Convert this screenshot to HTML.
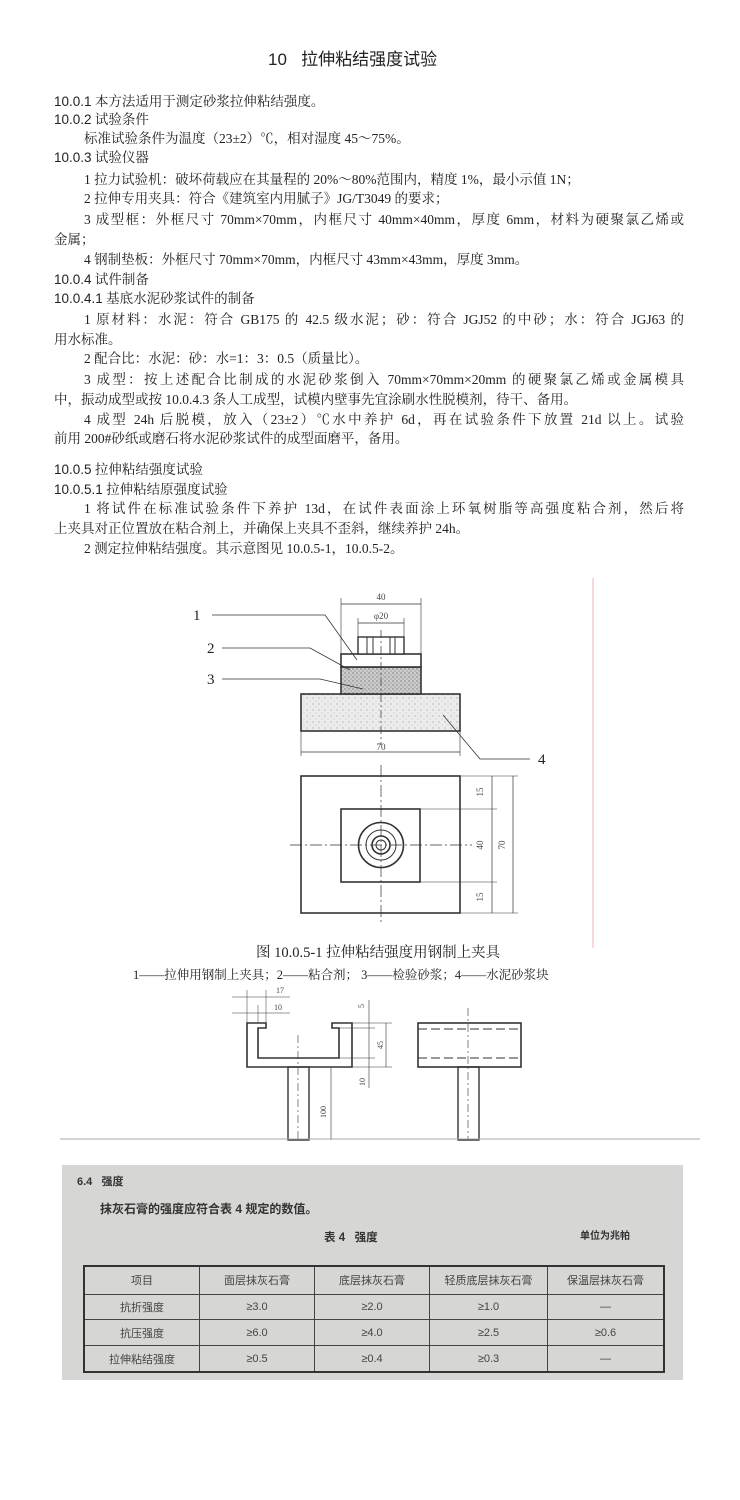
<!DOCTYPE html>
<html><head><meta charset="utf-8"><style>
body{margin:0;background:#fff;}
#p{position:relative;width:740px;height:1500px;overflow:hidden;font-family:"Liberation Serif","Noto Serif CJK SC",serif;color:#222;}
.l{position:absolute;font-size:13.5px;line-height:18px;white-space:nowrap;}
.f{left:54px;width:630px;text-align:justify;text-align-last:justify;white-space:normal;}
.h{font-family:"Liberation Sans","Noto Sans CJK SC",sans-serif;}
.n{font-family:"Liberation Sans",sans-serif;}
</style></head><body><div id="p">
<div class="l h" style="left:268px;top:48px;font-size:17px;line-height:24px;color:#222">10&nbsp;&nbsp;&nbsp;拉伸粘结强度试验</div>
<div class="l" style="left:54px;top:93px"><span class="n">10.0.1</span> 本方法适用于测定砂浆拉伸粘结强度。</div>
<div class="l" style="left:54px;top:111px"><span class="n">10.0.2</span> 试验条件</div>
<div class="l" style="left:84px;top:130px">标准试验条件为温度（23±2）℃，相对湿度 45～75%。</div>
<div class="l" style="left:54px;top:149px"><span class="n">10.0.3</span> 试验仪器</div>
<div class="l" style="left:84px;top:171px">1 拉力试验机：破坏荷载应在其量程的 20%～80%范围内，精度 1%，最小示值 1N；</div>
<div class="l" style="left:84px;top:190px">2 拉伸专用夹具：符合《建筑室内用腻子》JG/T3049 的要求；</div>
<div class="l f" style="top:211px;padding-left:30px;width:600px">3 成型框：外框尺寸 70mm×70mm，内框尺寸 40mm×40mm，厚度 6mm，材料为硬聚氯乙烯或</div>
<div class="l" style="left:54px;top:231px">金属；</div>
<div class="l" style="left:84px;top:251px">4 钢制垫板：外框尺寸 70mm×70mm，内框尺寸 43mm×43mm，厚度 3mm。</div>
<div class="l" style="left:54px;top:271px"><span class="n">10.0.4</span> 试件制备</div>
<div class="l" style="left:54px;top:290px"><span class="n">10.0.4.1</span> 基底水泥砂浆试件的制备</div>
<div class="l f" style="top:311px;padding-left:30px;width:600px">1 原材料：水泥：符合 GB175 的 42.5 级水泥；砂：符合 JGJ52 的中砂；水：符合 JGJ63 的</div>
<div class="l" style="left:54px;top:331px">用水标准。</div>
<div class="l" style="left:84px;top:350px">2 配合比：水泥：砂：水=1：3：0.5（质量比）。</div>
<div class="l f" style="top:371px;padding-left:30px;width:600px">3 成型：按上述配合比制成的水泥砂浆倒入 70mm×70mm×20mm 的硬聚氯乙烯或金属模具</div>
<div class="l" style="left:54px;top:391px">中，振动成型或按 10.0.4.3 条人工成型，试模内壁事先宜涂刷水性脱模剂，待干、备用。</div>
<div class="l f" style="top:411px;padding-left:30px;width:600px">4 成型 24h 后脱模，放入（23±2）℃水中养护 6d，再在试验条件下放置 21d 以上。试验</div>
<div class="l" style="left:54px;top:430px">前用 200#砂纸或磨石将水泥砂浆试件的成型面磨平，备用。</div>
<div class="l" style="left:54px;top:461px"><span class="n">10.0.5</span> 拉伸粘结强度试验</div>
<div class="l" style="left:54px;top:481px"><span class="n">10.0.5.1</span> 拉伸粘结原强度试验</div>
<div class="l f" style="top:500px;padding-left:30px;width:600px">1 将试件在标准试验条件下养护 13d，在试件表面涂上环氧树脂等高强度粘合剂，然后将</div>
<div class="l" style="left:54px;top:520px">上夹具对正位置放在粘合剂上，并确保上夹具不歪斜，继续养护 24h。</div>
<div class="l" style="left:84px;top:540px">2 测定拉伸粘结强度。其示意图见 10.0.5-1，10.0.5-2。</div>

<svg style="position:absolute;left:0;top:0" width="740" height="1500" font-family="Liberation Serif, serif">
<defs>
<pattern id="sp" width="6" height="6" patternUnits="userSpaceOnUse"><rect width="6" height="6" fill="#ececec"/><circle cx="1" cy="2" r="0.6" fill="#999"/><circle cx="4" cy="5" r="0.5" fill="#aaa"/></pattern>
<pattern id="sp2" width="4" height="4" patternUnits="userSpaceOnUse"><rect width="4" height="4" fill="#ccc"/><circle cx="1" cy="1" r="0.7" fill="#777"/><circle cx="3" cy="3" r="0.6" fill="#888"/></pattern>
</defs>
<line x1="593" y1="578" x2="593" y2="948" stroke="#f2b0b0" stroke-width="1"/>
<g stroke="#333" fill="none" stroke-width="1">
<rect x="301" y="694" width="159" height="37" fill="url(#sp)" stroke-width="1.6"/>
<rect x="341" y="667" width="80" height="27" fill="url(#sp2)" stroke-width="1.6"/>
<rect x="341" y="654" width="80" height="13" fill="#fff" stroke-width="1.6"/>
<rect x="358" y="637" width="46" height="17" fill="#fff" stroke-width="1.4"/>
<line x1="367" y1="637" x2="367" y2="654"/><line x1="373" y1="637" x2="373" y2="654"/><line x1="390" y1="637" x2="390" y2="654"/><line x1="395" y1="637" x2="395" y2="654"/>
<line x1="381" y1="630" x2="381" y2="745" stroke-dasharray="8,3,2,3" stroke-width="0.7"/>
<line x1="341" y1="598" x2="341" y2="654" stroke-width="0.6"/><line x1="421" y1="598" x2="421" y2="654" stroke-width="0.6"/>
<line x1="341" y1="604" x2="421" y2="604" stroke-width="0.7"/>
<line x1="358" y1="618" x2="358" y2="637" stroke-width="0.6"/><line x1="404" y1="618" x2="404" y2="637" stroke-width="0.6"/>
<line x1="358" y1="623" x2="404" y2="623" stroke-width="0.7"/>
<line x1="301" y1="731" x2="301" y2="756" stroke-width="0.6"/><line x1="460" y1="731" x2="460" y2="756" stroke-width="0.6"/>
<line x1="301" y1="752" x2="460" y2="752" stroke-width="0.7"/>
<polyline points="212,615 325,615 357,660" stroke-width="0.8"/>
<polyline points="222,648 310,648 350,670" stroke-width="0.8"/>
<polyline points="222,679 320,679 363,689" stroke-width="0.8"/>
<polyline points="530,759 480,759 443,715" stroke-width="0.8"/>
<rect x="301" y="776" width="159" height="137" stroke-width="1.6"/>
<rect x="341" y="809" width="79" height="73" stroke-width="1.6"/>
<circle cx="381" cy="845" r="22.5" stroke-width="1.6"/>
<circle cx="381" cy="845" r="15" stroke-width="1"/>
<circle cx="381" cy="845" r="9" stroke-width="1.6"/>
<circle cx="381" cy="845" r="5" stroke-width="1"/>
<line x1="290" y1="845" x2="472" y2="845" stroke-dasharray="12,3,2,3" stroke-width="0.7"/>
<line x1="381" y1="765" x2="381" y2="925" stroke-dasharray="12,3,2,3" stroke-width="0.7"/>
<line x1="460" y1="776" x2="518" y2="776" stroke-width="0.6"/><line x1="460" y1="913" x2="518" y2="913" stroke-width="0.6"/>
<line x1="420" y1="809" x2="497" y2="809" stroke-width="0.6"/><line x1="420" y1="882" x2="497" y2="882" stroke-width="0.6"/>
<line x1="492" y1="776" x2="492" y2="913" stroke-width="0.7"/><line x1="513" y1="776" x2="513" y2="913" stroke-width="0.7"/>
<path d="M247 1023 H266 V1028 H258 V1058 H339 V1028 H332 V1023 H352 V1067 H247 Z" stroke-width="1.6"/>
<rect x="288" y="1067" width="21" height="73" stroke-width="1.4"/>
<line x1="298" y1="1035" x2="298" y2="1140" stroke-dasharray="8,3,2,3" stroke-width="0.6"/>
<line x1="331" y1="1067" x2="331" y2="1140" stroke-width="0.6"/>
<line x1="232" y1="997" x2="290" y2="997" stroke-width="0.6"/><line x1="232" y1="1013" x2="290" y2="1013" stroke-width="0.6"/>
<line x1="247" y1="990" x2="247" y2="1023" stroke-width="0.5"/><line x1="266" y1="990" x2="266" y2="1023" stroke-width="0.5"/><line x1="258" y1="1005" x2="258" y2="1023" stroke-width="0.5"/>
<line x1="352" y1="1023" x2="392" y2="1023" stroke-width="0.5"/><line x1="339" y1="1028" x2="375" y2="1028" stroke-width="0.5"/><line x1="339" y1="1058" x2="375" y2="1058" stroke-width="0.5"/><line x1="352" y1="1067" x2="392" y2="1067" stroke-width="0.5"/>
<line x1="369" y1="1000" x2="369" y2="1088" stroke-width="0.6"/><line x1="386" y1="1023" x2="386" y2="1067" stroke-width="0.6"/>
<rect x="418" y="1023" width="103" height="44" stroke-width="1.6"/>
<line x1="418" y1="1029" x2="521" y2="1029" stroke-dasharray="9,4" stroke-width="1"/>
<line x1="418" y1="1058" x2="521" y2="1058" stroke-dasharray="9,4" stroke-width="1"/>
<rect x="458" y="1067" width="21" height="73" stroke-width="1.4"/>
<line x1="468" y1="1008" x2="468" y2="1140" stroke-dasharray="8,3,2,3" stroke-width="0.6"/>
</g>
<line x1="60" y1="1139" x2="700" y2="1139" stroke="#aaa" stroke-width="1"/>
<g font-size="9" fill="#444" text-anchor="middle">
<text x="381" y="600">40</text><text x="381" y="619">φ20</text><text x="381" y="750">70</text>
<text transform="translate(483,792) rotate(-90)">15</text><text transform="translate(483,845) rotate(-90)">40</text><text transform="translate(483,897) rotate(-90)">15</text><text transform="translate(505,845) rotate(-90)">70</text>
<text x="280" y="993" font-size="8">17</text><text x="278" y="1010" font-size="8">10</text>
<text transform="translate(364,1006) rotate(-90)" font-size="8">5</text><text transform="translate(383,1045) rotate(-90)" font-size="8">45</text><text transform="translate(365,1082) rotate(-90)" font-size="8">10</text><text transform="translate(326,1112) rotate(-90)" font-size="8">100</text>
</g>
<g font-size="15" fill="#222" font-family="Liberation Serif, serif">
<text x="193" y="620">1</text><text x="207" y="653">2</text><text x="207" y="684">3</text><text x="538" y="764">4</text>
</g>
</svg>
<div class="l" style="left:256px;top:944px;font-size:14.5px;color:#222">图 10.0.5-1 拉伸粘结强度用钢制上夹具</div>
<div class="l" style="left:133px;top:966px;font-size:12.5px;color:#222">1——拉伸用钢制上夹具；2——粘合剂； 3——检验砂浆；4——水泥砂浆块</div>

<div style="position:absolute;left:62px;top:1165px;width:621px;height:215px;background:#d6d6d4;font-family:'Liberation Sans','Noto Sans CJK SC',sans-serif;color:#333;">
<div style="position:absolute;left:15px;top:8px;font-size:11px;font-weight:bold">6.4&nbsp;&nbsp;&nbsp;强度</div>
<div style="position:absolute;left:38px;top:35px;font-size:12px;font-weight:bold">抹灰石膏的强度应符合表 4 规定的数值。</div>
<div style="position:absolute;left:262px;top:64px;font-size:11.5px;font-weight:bold">表 4&nbsp;&nbsp;&nbsp;强度</div>
<div style="position:absolute;left:518px;top:62px;font-size:10px;font-weight:bold">单位为兆帕</div>
<table style="position:absolute;left:21px;top:100px;width:582px;height:108px;border-collapse:collapse;border:2px solid #333;font-size:11px;text-align:center;color:#444">
<tr style="height:28px"><td style="border:1px solid #444;width:112px">项目</td><td style="border:1px solid #444;width:112px">面层抹灰石膏</td><td style="border:1px solid #444;width:112px">底层抹灰石膏</td><td style="border:1px solid #444;width:115px">轻质底层抹灰石膏</td><td style="border:1px solid #444">保温层抹灰石膏</td></tr>
<tr><td style="border:1px solid #444">抗折强度</td><td style="border:1px solid #444">≥3.0</td><td style="border:1px solid #444">≥2.0</td><td style="border:1px solid #444">≥1.0</td><td style="border:1px solid #444">—</td></tr>
<tr><td style="border:1px solid #444">抗压强度</td><td style="border:1px solid #444">≥6.0</td><td style="border:1px solid #444">≥4.0</td><td style="border:1px solid #444">≥2.5</td><td style="border:1px solid #444">≥0.6</td></tr>
<tr><td style="border:1px solid #444">拉伸粘结强度</td><td style="border:1px solid #444">≥0.5</td><td style="border:1px solid #444">≥0.4</td><td style="border:1px solid #444">≥0.3</td><td style="border:1px solid #444">—</td></tr>
</table>
</div>
</div></body></html>
